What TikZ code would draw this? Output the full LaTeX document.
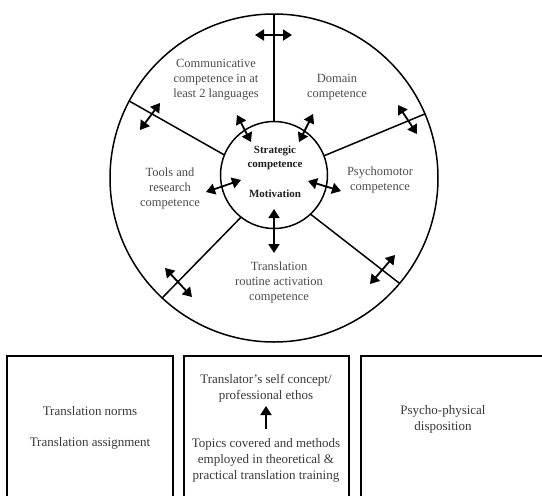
\documentclass[tikz,border=0pt]{standalone}
\usepackage{fontspec}
\setmainfont{Liberation Serif}
\usetikzlibrary{arrows.meta}
\begin{document}
\begin{tikzpicture}[x=1pt,y=-1pt,
  ringst/.style={circle,draw,line width=1.5pt,inner sep=0pt,outer sep=0pt},
  spoke/.style={line width=1.5pt},
  darr/.style={line width=1.8pt,{Triangle[length=9pt,width=11pt]}-{Triangle[length=9pt,width=11pt]}},
  uarr/.style={line width=1.8pt,-{Triangle[length=9pt,width=11pt]}},
  lab/.style={align=center,text=black!70,font=\fontsize{12.5}{15}\selectfont,inner sep=0pt},
  blab/.style={align=center,text=black!88,font=\bfseries\fontsize{11}{14.5}\selectfont,inner sep=0pt},
  boxlab/.style={align=center,text=black!78,font=\fontsize{13}{16}\selectfont,inner sep=0pt},
  boxst/.style={draw,line width=1.9pt,inner sep=0pt,outer sep=0pt,anchor=north west,minimum height=170pt}
]
\useasboundingbox (0,0) rectangle (542,496);
\clip (0,0) rectangle (542,496);

% circles
\node[ringst,minimum size=328pt] (outer) at (274,178) {};
\node[ringst,minimum size=107pt] (inner) at (274,175) {};

% spokes
\draw[spoke] (inner.90) -- (outer.90);
\draw[spoke] (inner.158.6) -- (outer.152.5);
\draw[spoke] (inner.21) -- (outer.23.8);
\draw[spoke] (inner.232.2) -- (outer.227);
\draw[spoke] (inner.313.3) -- (outer.320.5);

% arrow end points
\coordinate (a1s) at (255,35);    \coordinate (a1e) at (292,35);
\coordinate (a2s) at (140,130);   \coordinate (a2e) at (160,103);
\coordinate (a3s) at (237,115);   \coordinate (a3e) at (251,142);
\coordinate (a4s) at (313,114);   \coordinate (a4e) at (299,142);
\coordinate (a5s) at (398,105);   \coordinate (a5e) at (417,134);
\coordinate (a6s) at (206,192);   \coordinate (a6e) at (241,180);
\coordinate (a7s) at (308,181);   \coordinate (a7e) at (341,191);
\coordinate (a8s) at (274,209);   \coordinate (a8e) at (274,253);
\coordinate (a9s) at (165,268);   \coordinate (a9e) at (192,297);
\coordinate (a10s) at (370,284);  \coordinate (a10e) at (395,255);

\foreach \i in {1,...,10} \draw[darr] (a\i s) -- (a\i e);

% ring labels
\node[lab] (comm) at (216,80) {Communicative\\competence in at\\least 2 languages};
\node[lab] (dom) at (337,87) {Domain\\competence};
\node[lab] (tools) at (170,188) {Tools and\\research\\competence};
\node[lab] (psy) at (380,180) {Psychomotor\\competence};
\node[lab] (rout) at (279,282) {Translation\\routine activation\\competence};
\node[blab] (strat) at (275,158) {Strategic\\competence};
\node[blab] (motiv) at (275,194) {Motivation};

% boxes
\node[boxst,minimum width=166pt] (b1) at (7,356) {};
\node[boxst,minimum width=165pt] (b2) at (184,356) {};
\node[boxst,minimum width=200pt] (b3) at (361,356) {};

\node[boxlab] (norms) at (90,411) {Translation norms};
\node[boxlab] (assign) at (90,443) {Translation assignment};
\node[boxlab] (ethos) at (266,388) {Translator’s self concept/\\professional ethos};
\node[boxlab] (topics) at (266,460) {Topics covered and methods\\employed in theoretical \&\\practical translation training};
\node[boxlab] (disp) at (443,419) {Psycho-physical\\disposition};

\coordinate (m1) at (266,429);
\coordinate (m2) at (266,406);
\draw[uarr] (m1) -- (m2);
\end{tikzpicture}
\end{document}
